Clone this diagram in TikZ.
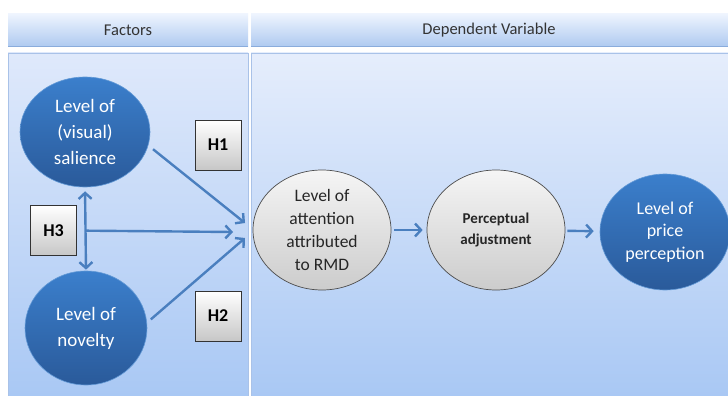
\documentclass[tikz,border=0pt]{standalone}
\usepackage{fontspec}
\setmainfont{Carlito}
\usetikzlibrary{shapes.geometric,arrows.meta,calc}
\definecolor{hdtop}{HTML}{EEF4FE}
\definecolor{hdbot}{HTML}{ADC9F0}
\definecolor{hdline}{HTML}{8AACDC}
\definecolor{bodytop}{HTML}{DFE9FB}
\definecolor{bodybot}{HTML}{A9C8F4}
\definecolor{panelline}{HTML}{A9C2E8}
\definecolor{balltop}{HTML}{3B7FCC}
\definecolor{ballbot}{HTML}{2A5A9A}
\definecolor{arrowc}{HTML}{4A7FBF}
\definecolor{graytop}{HTML}{F5F5F5}
\definecolor{graybot}{HTML}{CCCCCC}
\tikzset{
  hdtext/.style={text=black!80, font=\fontsize{16.5}{19}\selectfont},
  blueball/.style={ellipse, inner sep=0pt, top color=balltop, bottom color=ballbot, draw=balltop!80!white, line width=0.6pt, text=white, align=center},
  grayball/.style={ellipse, inner sep=0pt, top color=graytop, bottom color=graybot, draw=black!70, line width=0.7pt, text=black!85, align=center},
  hbox/.style={rectangle, inner sep=0pt, minimum width=46pt, minimum height=50pt, top color=white, bottom color=black!22, draw=black!80, line width=0.7pt, font=\bfseries\fontsize{18}{20}\selectfont},
  arr/.style={draw=arrowc, line width=2.4pt, -{Straight Barb[length=6pt,width=13pt]}},
  darr/.style={draw=arrowc, line width=2.4pt, {Straight Barb[length=6pt,width=13pt]}-{Straight Barb[length=6pt,width=13pt]}},
}
\begin{document}
\begin{tikzpicture}[x=1pt,y=-1pt]
\useasboundingbox (0,0) rectangle (728,396);
\fill[white] (0,0) rectangle (728,396);
% header
\shade[top color=hdtop, bottom color=hdbot] (8,14) rectangle (248,47);
\shade[top color=hdtop, bottom color=hdbot] (251,14) rectangle (728,47);
\draw[hdline, line width=1.5pt] (8,46.5) -- (248,46.5);
\draw[hdline, line width=1.5pt] (251,46.5) -- (728,46.5);
\node[hdtext] (hf) at (128,30) {Factors};
\node[hdtext] (hd) at (489,30) {Dependent Variable};
% body panels
\shade[top color=bodytop, bottom color=bodybot, draw=panelline, line width=0.8pt] (8,53) rectangle (248,396);
\shade[top color=bodytop!80!white, bottom color=bodybot, draw=panelline, line width=0.8pt] (251,53) rectangle (728,396);
% factor nodes
\node[blueball, minimum width=130pt, minimum height=110pt, font=\fontsize{19}{26}\selectfont] (sal) at (85,132) {Level of\\(visual)\\salience};
\node[blueball, minimum width=122pt, minimum height=114pt, font=\fontsize{19}{26}\selectfont] (nov) at (86,328) {Level of\\novelty};
\node[hbox] (h1) at (218,145) {H1};
\node[hbox] (h2) at (218,316) {H2};
\node[hbox] (h3) at (53.5,230.5) {H3};
% dependent nodes
\node[grayball, minimum width=138pt, minimum height=120pt, font=\fontsize{17.5}{23}\selectfont] (att) at (322,230) {Level of\\attention\\attributed\\to RMD};
\node[grayball, minimum width=138pt, minimum height=120pt, font=\bfseries\fontsize{15}{21}\selectfont] (per) at (496,230) {Perceptual\\adjustment};
\node[blueball, minimum width=130pt, minimum height=116pt, font=\fontsize{18}{22.5}\selectfont] (pri) at (665,232) {Level of\\price\\perception};
% connectors
\coordinate (t1) at (245,223);
\coordinate (t2) at (245,238);
\coordinate (t3) at (233,232);
\draw[arr, shorten <=6pt] (sal.-12) -- (t1);
\draw[arr, shorten <=5pt] (nov.5) -- (t2);
\draw[darr, shorten <=4pt, shorten >=1pt] (sal.south) -- (nov.north);
\coordinate (mid) at ($(sal.south)!0.52!(nov.north)$);
\draw[arr] (mid) -- (t3);
\draw[arr, shorten <=3pt, shorten >=4pt] (att) -- (per);
\draw[arr, shorten <=2pt, shorten >=6pt] (per) -- (pri);
\end{tikzpicture}
\end{document}
